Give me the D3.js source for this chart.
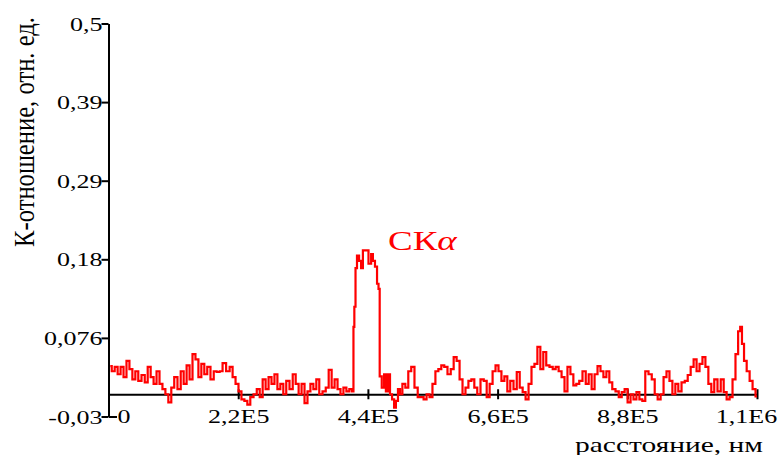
<!DOCTYPE html>
<html>
<head>
<meta charset="utf-8">
<script src="https://cdn.jsdelivr.net/npm/d3@7"></script>
<style>
  body { margin: 0; background: #fff; }
  svg text { font-family: "Times New Roman", "Liberation Serif", serif; fill: #000; }
</style>
</head>
<body>
<script>
// distance along the scan, in thousands of nm
var distanceK = [
  3, 8, 13, 18, 23, 28, 33, 38, 43, 48,
  53, 59, 64, 69, 74, 79, 84, 89, 94, 99,
  104, 109, 114, 120, 125, 130, 135, 140, 145, 150,
  155, 160, 165, 170, 176, 181, 186, 191, 196, 203,
  208, 213, 218, 223, 228, 233, 238, 243, 249, 254,
  259, 264, 269, 274, 279, 284, 289, 294, 299, 304,
  310, 315, 320, 325, 330, 335, 340, 345, 350, 355,
  360, 366, 371, 376, 381, 386, 391, 396, 401, 406,
  411, 415, 416, 418, 420, 423, 427, 430, 433, 438,
  444, 447, 450, 454, 457, 459, 461, 466, 469, 472,
  476, 479, 483, 486, 489, 493, 496, 501, 506, 511,
  516, 522, 527, 532, 537, 542, 547, 552, 557, 562,
  567, 572, 578, 583, 588, 593, 598, 603, 608, 613,
  618, 623, 628, 634, 639, 644, 649, 654, 659, 664,
  669, 674, 679, 684, 690, 695, 700, 705, 710, 715,
  720, 725, 730, 735, 740, 745, 751, 756, 761, 766,
  771, 776, 781, 786, 791, 796, 801, 807, 812, 817,
  822, 827, 832, 837, 842, 847, 852, 857, 863, 868,
  873, 878, 883, 888, 893, 898, 903, 908, 913, 919,
  924, 929, 934, 939, 944, 949, 954, 959, 964, 969,
  975, 980, 985, 990, 995, 1000, 1005, 1010, 1015, 1020,
  1025, 1030, 1036, 1041, 1046, 1051, 1056, 1061, 1066, 1070,
  1073, 1076, 1080, 1085, 1090, 1095, 1100
];

// K-ratio (CKa), relative units
var ratio = [
  0.038, 0.031, 0.037, 0.027, 0.037, 0.023, 0.045, 0.034, 0.020, 0.031,
  0.018, 0.026, 0.016, 0.037, 0.023, 0.014, 0.031, 0.014, 0.007, 0.000,
  -0.011, 0.009, 0.023, 0.007, 0.031, 0.014, 0.039, 0.020, 0.054, 0.047,
  0.023, 0.041, 0.027, 0.037, 0.020, 0.031, 0.030, 0.031, 0.042, 0.031,
  0.037, 0.023, 0.014, 0.004, -0.007, -0.009, -0.014, -0.004, 0.000, 0.007,
  -0.004, 0.020, 0.007, 0.023, 0.014, 0.027, 0.007, 0.014, 0.000, 0.018,
  0.007, 0.027, 0.014, 0.000, 0.014, -0.012, 0.004, 0.014, 0.007, 0.020,
  0.000, 0.004, 0.009, 0.033, 0.009, 0.020, 0.007, 0.000, 0.009, 0.004,
  0.007, 0.004, 0.091, 0.118, 0.170, 0.187, 0.180, 0.170, 0.194, 0.194,
  0.176, 0.189, 0.180, 0.172, 0.149, 0.142, 0.024, 0.009, 0.027, 0.004,
  0.027, 0.000, -0.007, -0.018, -0.009, 0.007, 0.000, 0.014, 0.009, 0.031,
  0.037, 0.009, -0.004, -0.004, -0.007, 0.000, -0.004, 0.014, 0.031, 0.034,
  0.039, 0.037, 0.027, 0.034, 0.050, 0.045, 0.020, 0.000, 0.009, 0.018,
  0.020, 0.009, 0.000, 0.020, 0.018, -0.004, 0.014, 0.031, 0.039, 0.031,
  0.018, 0.024, 0.004, 0.018, 0.007, 0.030, 0.009, 0.003, -0.007, 0.014,
  0.037, 0.041, 0.064, 0.034, 0.057, 0.039, 0.037, 0.034, 0.037, 0.031,
  0.023, 0.004, 0.037, 0.027, 0.012, 0.014, 0.018, 0.031, 0.014, 0.027,
  0.007, 0.027, 0.038, 0.031, 0.023, 0.031, 0.016, 0.007, 0.004, -0.004,
  0.003, 0.007, -0.011, 0.000, -0.007, 0.003, -0.007, -0.009, 0.031, 0.027,
  0.020, 0.000, -0.007, 0.000, 0.023, 0.031, 0.018, 0.000, 0.014, 0.004,
  0.016, 0.018, 0.026, 0.037, 0.047, 0.031, 0.041, 0.050, 0.037, 0.014,
  0.003, 0.020, 0.004, 0.020, 0.003, -0.007, -0.004, 0.020, 0.054, 0.085,
  0.091, 0.068, 0.045, 0.031, 0.018, 0.007, -0.003
];

// ticks
var xTicks = [0, 2.2e5, 4.4e5, 6.6e5, 8.8e5, 1.1e6];
var xTickLabels = ["0", "2,2E5", "4,4E5", "6,6E5", "8,8E5", "1,1E6"];
var yTicks = [-0.03, 0.076, 0.182, 0.288, 0.394, 0.5];
var yTickLabels = ["-0,03", "0,076", "0,18", "0,29", "0,39", "0,5"];

var width = 781,
  height = 455;

// the glyphs in the original are drawn wide, so stretch text horizontally
var stretch = 1.37;

var svg = d3.select("body")
  .append("svg")
  .attr("width", width)
  .attr("height", height);

var x = d3.scaleLinear().domain([0, 1.1e6]).range([108.5, 757]);
var y = d3.scaleLinear().domain([-0.03, 0.5]).range([416.5, 23.5]);

// y axis
var yAxis = svg.append("g")
  .attr("transform", "translate(108.5,0)")
  .call(d3.axisLeft(y)
    .tickValues(yTicks)
    .tickFormat(function(d, i) { return yTickLabels[i]; })
    .tickSizeInner(7)
    .tickSizeOuter(0));

yAxis.attr("font-size", null).attr("font-family", null);
yAxis.select(".domain").attr("stroke-width", 2);
yAxis.selectAll(".tick line").attr("stroke-width", 2);
yAxis.selectAll(".tick text")
  .attr("x", -6 / stretch)
  .attr("dy", "0.35em")
  .attr("font-size", 19)
  .attr("transform", "scale(" + stretch + ",1)");

// small stub to the right at the bottom tick
svg.append("line")
  .attr("x1", 109).attr("x2", 117)
  .attr("y1", y(-0.03) + 0.5).attr("y2", y(-0.03) + 0.5)
  .attr("stroke", "#000")
  .attr("stroke-width", 2);

// x axis, drawn through y = 0
var xAxis = svg.append("g")
  .attr("transform", "translate(0," + y(0) + ")")
  .call(d3.axisBottom(x)
    .tickValues(xTicks)
    .tickFormat(function(d, i) { return xTickLabels[i]; })
    .tickSizeInner(4)
    .tickSizeOuter(0));

xAxis.attr("font-size", null).attr("font-family", null);
xAxis.select(".domain").attr("stroke-width", 2);
xAxis.selectAll(".tick line")
  .attr("y1", -5)
  .attr("y2", 5)
  .attr("stroke-width", 2);
xAxis.selectAll(".tick text")
  .attr("y", y(-0.03) - y(0))
  .attr("dy", "0.35em")
  .attr("font-size", 19)
  .attr("x", function(d, i) {
    if (i == 0) return 15 / stretch;
    if (i == xTicks.length - 1) return -11 / stretch;
    return 0;
  })
  .attr("transform", "scale(" + stretch + ",1)");

// the measured profile
var line = d3.line()
  .x(function(d, i) { return x(distanceK[i] * 1000); })
  .y(function(d) { return y(d); })
  .curve(d3.curveStep);

svg.append("path")
  .datum(ratio)
  .attr("d", line)
  .attr("fill", "none")
  .attr("stroke", "#ff0000")
  .attr("stroke-width", 2.2);

// series label
var serie = svg.append("text")
  .attr("transform", "translate(388,250) scale(" + stretch + ",1)")
  .attr("font-size", 27)
  .style("fill", "#ff0000");
serie.append("tspan").text("СК");
serie.append("tspan").attr("font-style", "italic").text("α");

// axis titles
svg.append("text")
  .attr("transform", "translate(24,132) scale(" + stretch + ",1) rotate(-90)")
  .attr("text-anchor", "middle")
  .attr("dy", "0.35em")
  .attr("font-size", 21)
  .attr("textLength", 230)
  .attr("lengthAdjust", "spacingAndGlyphs")
  .text("К-отношение, отн. ед.");

svg.append("text")
  .attr("transform", "translate(575,452) scale(" + stretch + ",1)")
  .attr("font-size", 20)
  .attr("textLength", 188 / stretch)
  .attr("lengthAdjust", "spacingAndGlyphs")
  .text("расстояние, нм");
</script>
</body>
</html>
